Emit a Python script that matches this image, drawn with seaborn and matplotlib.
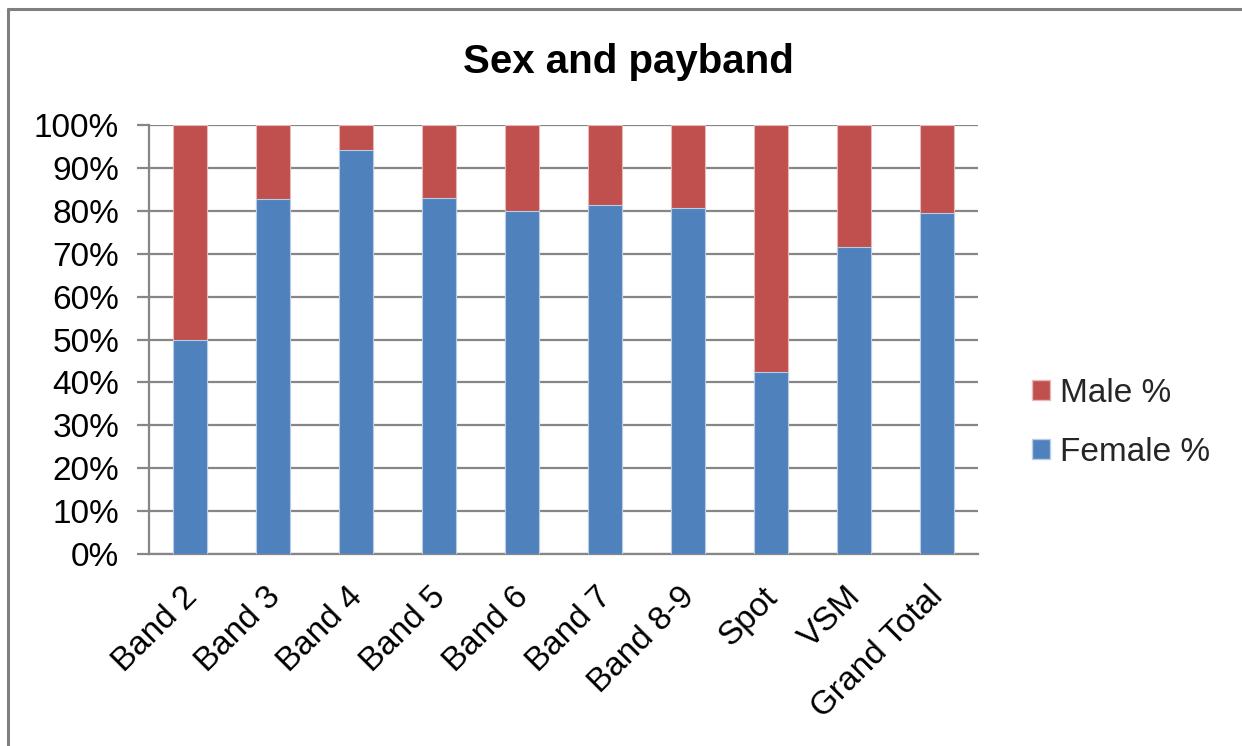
import matplotlib
matplotlib.use("Agg")
import matplotlib.pyplot as plt
import matplotlib.transforms as mtransforms
from matplotlib.lines import Line2D
from matplotlib.patches import Patch
import seaborn as sns
import pandas as pd
import numpy as np

categories = ["Band 2", "Band 3", "Band 4", "Band 5", "Band 6", "Band 7",
              "Band 8-9", "Spot", "VSM", "Grand Total"]
female_pct = [50.0, 82.7, 94.2, 83.1, 80.0, 81.4, 80.7, 42.5, 71.5, 79.6]
male_pct = [100 - f for f in female_pct]
y_ticks = [0, 10, 20, 30, 40, 50, 60, 70, 80, 90, 100]
y_tick_labels = [f"{t}%" for t in y_ticks]

RED = "#C0504D"
BLUE = "#4F81BD"
GRID = "#868686"

sns.set_theme(style="white")
plt.rcParams['font.family'] = ['Liberation Sans', 'DejaVu Sans']

df = pd.DataFrame({"category": categories, "female": female_pct, "male": male_pct})
df["total"] = df["female"] + df["male"]

fig = plt.figure(figsize=(12.42, 7.46), dpi=100)
ax = fig.add_axes([149/1242, 1 - 554/746, (978 - 149)/1242, (554 - 125)/746])

sns.barplot(data=df, x="category", y="total", color=RED, width=0.41,
            edgecolor="#E6B9B8", linewidth=0.8, saturation=1, ax=ax, zorder=3)
sns.barplot(data=df, x="category", y="female", color=BLUE, width=0.41,
            edgecolor="#B9CDE5", linewidth=0.8, saturation=1, ax=ax, zorder=4)

ax.set_xlim(-0.5, len(categories) - 0.5)
ax.set_ylim(0, 100)
ax.set_yticks(y_ticks)
ax.set_yticklabels(y_tick_labels, fontsize=24, color="black")
ax.yaxis.grid(True, color=GRID, linewidth=1.6, zorder=0)
ax.set_axisbelow(True)

ax.set_xticks(range(len(categories)))
ax.set_xticklabels(categories, fontsize=24, rotation=45, ha="right",
                   va="top", rotation_mode="anchor", color="black")
ax.set_xticks(np.arange(-0.5, len(categories), 1.0), minor=True)
ax.tick_params(axis="x", which="major", length=0, pad=21)
ax.tick_params(axis="x", which="minor", length=7, width=1.6, color=GRID, direction="out")
ax.tick_params(axis="y", length=8.5, width=1.6, color=GRID, direction="out", pad=13, left=True)

offset = mtransforms.ScaledTranslation(-9/100, 2/100, fig.dpi_scale_trans)
for lbl in ax.get_xticklabels():
    lbl.set_transform(lbl.get_transform() + offset)

ax.set_xlabel("")
ax.set_ylabel("")
for side in ["top", "right"]:
    ax.spines[side].set_visible(False)
for side in ["left", "bottom"]:
    ax.spines[side].set_color(GRID)
    ax.spines[side].set_linewidth(1.6)

fig.text(628/1242, 1 - 62/746, "Sex and payband", fontsize=29, fontweight="bold",
         ha="center", va="center", color="black")

handles = [Patch(facecolor=RED, edgecolor="#E6B9B8", label="Male %"),
           Patch(facecolor=BLUE, edgecolor="#B9CDE5", label="Female %")]
fig.legend(handles=handles, loc="center left", bbox_to_anchor=(1015/1242, 1 - 423/746),
           frameon=False, fontsize=24, handlelength=0.55, handleheight=0.55,
           handletextpad=0.3, labelspacing=0.85, borderpad=0)

fig.add_artist(Line2D([8/1242, 1.0], [1 - 9/746, 1 - 9/746], color="#7F7F7F",
                      linewidth=2.2, transform=fig.transFigure))
fig.add_artist(Line2D([8/1242, 8/1242], [0, 1 - 9/746], color="#7F7F7F",
                      linewidth=2.2, transform=fig.transFigure))

fig.savefig("out.png", dpi=100, facecolor="white")
